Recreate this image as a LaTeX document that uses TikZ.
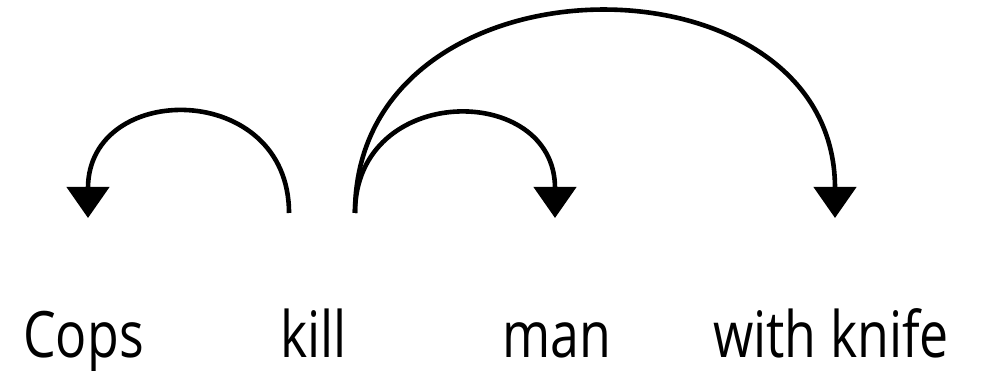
\documentclass[tikz,border=0pt]{standalone}
\usepackage{fontspec}
\setmainfont{Open Sans}
\usetikzlibrary{arrows.meta}
\newcommand{\narrowword}[1]{\scalebox{0.81}[1]{#1}}
\begin{document}
\begin{tikzpicture}[x=1pt,y=-1pt,
  word/.style={anchor=base west,inner sep=0pt,font=\fontsize{64}{66}\selectfont},
  dep/.style={line width=4.6pt,-{Triangle[width=42pt,length=31pt]}}]
\useasboundingbox (0,0) rectangle (981,371);
\node[word] (cops) at (23,357) {\narrowword{Cops}};
\node[word] (kill) at (280,357) {\narrowword{kill}};
\node[word] (man) at (502,357) {\narrowword{man}};
\node[word] (knife) at (713,357) {\narrowword{with knife}};
\coordinate (killL) at (289,213);
\coordinate (killR) at (355,213);
\coordinate (copsT) at (88,218);
\coordinate (manT) at (555,218);
\coordinate (knifeT) at (835,218);
\draw[dep] (killL) .. controls (289,80) and (88,80) .. (copsT);
\draw[dep] (killR) .. controls (355,82) and (555,82) .. (manT);
\draw[dep] (killR) .. controls (355,-54) and (835,-54) .. (knifeT);
\end{tikzpicture}
\end{document}
